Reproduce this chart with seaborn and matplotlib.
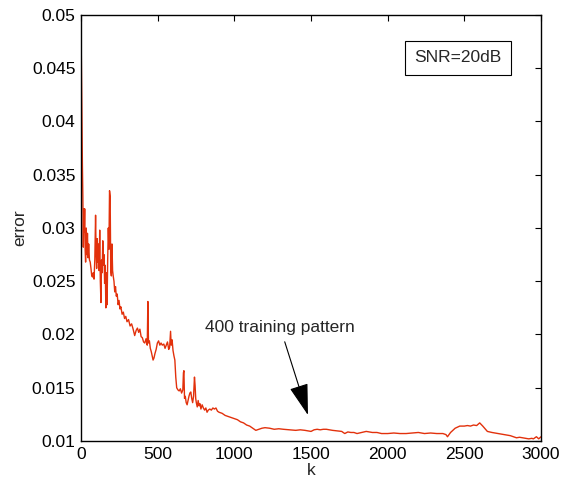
import matplotlib
matplotlib.use("Agg")
import matplotlib.pyplot as plt
import pandas as pd
import seaborn as sns
from matplotlib.ticker import FuncFormatter

K = [0, 3, 6, 9, 12, 15, 18, 21, 24, 27, 30, 34, 38, 42, 46, 50, 55, 60, 65, 70,
     75, 80, 85, 90, 95, 98, 102, 106, 110, 114, 118, 122, 126, 130, 134, 138, 142, 146, 150, 154,
     158, 162, 166, 170, 174, 178, 182, 186, 190, 194, 198, 202, 206, 210, 215, 220, 225, 230, 236, 242,
     248, 254, 260, 268, 276, 284, 292, 300, 310, 320, 330, 340, 350, 360, 368, 376, 384, 392, 400, 408,
     416, 424, 432, 436, 440, 446, 452, 458, 464, 470, 476, 482, 490, 498, 506, 514, 522, 530, 540, 548,
     556, 564, 572, 578, 584, 588, 594, 600, 606, 612, 618, 624, 632, 640, 648, 656, 664, 668, 671, 675,
     680, 686, 692, 698, 704, 710, 716, 722, 728, 734, 740, 744, 748, 752, 758, 764, 770, 776, 782, 790,
     798, 806, 814, 822, 830, 840, 850, 860, 870, 880, 890, 900, 920, 940, 960, 980, 1000, 1020, 1040, 1060,
     1080, 1100, 1120, 1140, 1160, 1180, 1200, 1230, 1260, 1290, 1320, 1360, 1400, 1430, 1460, 1500, 1520, 1540, 1560, 1580,
     1600, 1620, 1640, 1670, 1700, 1720, 1740, 1760, 1780, 1800, 1830, 1860, 1880, 1900, 1930, 1960, 2000, 2040, 2080, 2120,
     2160, 2200, 2240, 2280, 2320, 2360, 2380, 2390, 2410, 2440, 2470, 2500, 2520, 2540, 2560, 2580, 2600, 2620, 2650, 2680,
     2700, 2720, 2740, 2760, 2780, 2800, 2820, 2840, 2860, 2880, 2900, 2920, 2940, 2950, 2960, 2970, 2985, 3000]

ERROR = [0.049, 0.045, 0.0405, 0.036, 0.0330, 0.0282, 0.0318, 0.0296, 0.0318, 0.0280, 0.0268, 0.0300, 0.0275, 0.0295, 0.0272, 0.0285, 0.0270, 0.0268, 0.0262, 0.0255,
         0.0254, 0.0258, 0.0252, 0.0270, 0.0312, 0.0280, 0.0262, 0.0290, 0.0268, 0.0285, 0.0260, 0.0298, 0.0250, 0.0230, 0.0270, 0.0258, 0.0288, 0.0265, 0.0275, 0.0248,
         0.0265, 0.0225, 0.0258, 0.0228, 0.0270, 0.0300, 0.0280, 0.0335, 0.0330, 0.0260, 0.0255, 0.0285, 0.0260, 0.0255, 0.0250, 0.0240, 0.0245, 0.0236, 0.0238, 0.0228,
         0.0232, 0.0224, 0.0226, 0.0219, 0.0221, 0.0215, 0.0217, 0.0212, 0.0214, 0.0208, 0.0210, 0.0205, 0.0199, 0.0204, 0.0206, 0.0202, 0.0205, 0.0198, 0.0197, 0.0193,
         0.0192, 0.0196, 0.0190, 0.0231, 0.0192, 0.0194, 0.0187, 0.0184, 0.0180, 0.0176, 0.0178, 0.0182, 0.0186, 0.0192, 0.0194, 0.0190, 0.0192, 0.0190, 0.0191, 0.0187,
         0.0190, 0.0193, 0.0186, 0.0188, 0.0203, 0.0190, 0.0195, 0.0185, 0.0180, 0.0176, 0.0160, 0.0150, 0.0148, 0.0147, 0.0149, 0.0145, 0.0148, 0.0164, 0.0166, 0.0140,
         0.0142, 0.0136, 0.0134, 0.0138, 0.0142, 0.0145, 0.0146, 0.0140, 0.0136, 0.0142, 0.0160, 0.0152, 0.0140, 0.0136, 0.0132, 0.0138, 0.0133, 0.0135, 0.0130, 0.0134,
         0.0131, 0.0129, 0.0131, 0.0127, 0.0129, 0.0130, 0.0129, 0.0131, 0.0130, 0.0131, 0.0128, 0.0127, 0.0126, 0.0124, 0.0123, 0.0122, 0.0121, 0.0120, 0.0118, 0.0117,
         0.0115, 0.0114, 0.0112, 0.0110, 0.0111, 0.0112, 0.01125, 0.0112, 0.0111, 0.01115, 0.0111, 0.01105, 0.0110, 0.01105, 0.0110, 0.0109, 0.01105, 0.0111, 0.01105, 0.0111,
         0.0111, 0.01105, 0.0110, 0.01095, 0.0109, 0.0107, 0.01085, 0.0108, 0.0108, 0.0107, 0.0108, 0.0109, 0.01085, 0.0108, 0.0108, 0.0107, 0.0107, 0.01075, 0.0107, 0.0107,
         0.01075, 0.0108, 0.0107, 0.01075, 0.0107, 0.0107, 0.0106, 0.0104, 0.0108, 0.0112, 0.0114, 0.0114, 0.01145, 0.0114, 0.0115, 0.01145, 0.0117, 0.0114, 0.0109, 0.0108,
         0.01075, 0.0107, 0.01065, 0.0106, 0.01055, 0.0105, 0.0104, 0.0103, 0.01035, 0.0103, 0.01025, 0.0102, 0.01025, 0.0102, 0.0103, 0.0104, 0.0102, 0.0104]

X_TICKS = [0, 500, 1000, 1500, 2000, 2500, 3000]
Y_TICKS = [0.01, 0.015, 0.02, 0.025, 0.03, 0.035, 0.04, 0.045, 0.05]

sns.set_theme(style="white")
plt.rcParams["font.family"] = ["Liberation Sans", "DejaVu Sans"]

df = pd.DataFrame({"k": K, "error": ERROR})

fig = plt.figure(figsize=(5.61, 4.95), dpi=100)
ax = fig.add_axes([0.1444, 0.1091, 0.82, 0.8606])
sns.lineplot(data=df, x="k", y="error", ax=ax, color="#e2310c", linewidth=1.0,
             estimator=None, sort=False)

ax.set_xlim(0, 3000)
ax.set_ylim(0.01, 0.05)
ax.set_xticks(X_TICKS)
ax.set_yticks(Y_TICKS)
ax.yaxis.set_major_formatter(FuncFormatter(lambda v, p: f"{v:g}"))
ax.tick_params(direction="in", top=True, right=True, length=4, width=0.8,
               labelsize=12.5, colors="black", pad=4)
for s in ax.spines.values():
    s.set_color("black")
    s.set_linewidth(1.0)
ax.set_xlabel("k", fontsize=12.5, labelpad=1)
ax.set_ylabel("error", fontsize=12.5, labelpad=3)

ax.annotate("400 training pattern", xy=(1480, 0.01244), xytext=(1298, 0.0207),
            ha="center", va="center", fontsize=12.5,
            arrowprops=dict(arrowstyle="-|>,head_length=0.9,head_width=0.27", color="black", lw=0.8,
                            mutation_scale=22, shrinkA=3, shrinkB=0))
ax.text(2459, 0.046, "SNR=20dB", ha="center", va="center", fontsize=12.5,
        bbox=dict(boxstyle="square,pad=0.55", facecolor="white", edgecolor="black", linewidth=0.8))

fig.savefig("out.png", dpi=100)
